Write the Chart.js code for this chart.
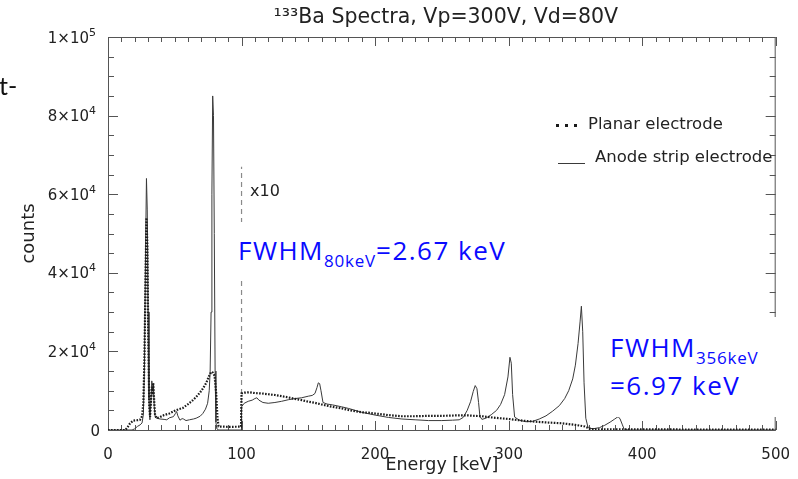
<!DOCTYPE html>
<html>
<head>
<meta charset="utf-8">
<script src="https://cdn.jsdelivr.net/npm/chart.js@4.4.1/dist/chart.umd.min.js"></script>
<style>
  html, body { margin: 0; padding: 0; background: #fff; }
  #wrap { position: relative; width: 798px; height: 479px; overflow: hidden; }
  .note { position: absolute; font: 26px 'Open Sans', Lato, sans-serif; letter-spacing: 1.5px; color: #0a0aff; background: #fff; white-space: nowrap; }
  .note sub { font-size: 17px; vertical-align: -7px; line-height: 0; letter-spacing: 0.8px; }
  #n80 { left: 236px; top: 222px; line-height: 35px; padding: 11px 4px 12px 2px; }
  #n356 { left: 606px; top: 317px; line-height: 38px; padding: 11px 40px 13px 4px; }
  #cut { position: absolute; left: -1px; top: 70px; font: 25px Lato, sans-serif; color: #111; }
</style>
</head>
<body>
<div id="wrap">
  <canvas id="spec" width="798" height="479"></canvas>
  <div class="note" id="n80">FWHM<sub>80keV</sub>=2.67 keV</div>
  <div class="note" id="n356">FWHM<sub>356keV</sub><br>=6.97 keV</div>
  <div id="cut">t-</div>
</div>
<script>
// 133Ba spectra; counts above 100 keV are shown multiplied by GAIN
const GAIN = 10;
const GAIN_FROM = 100;

const planarEnergy = [0, 13, 14.5, 16.5, 19, 22, 24, 25.5, 26.5, 27.3, 28.1, 28.8, 29.5, 30.2, 30.9, 31.5, 32.2, 32.8, 33.3, 33.9, 34.5, 35.2, 36.4, 39, 42, 46, 50, 53, 56, 60, 63.6, 66, 68.6, 71, 73.6, 75.5, 77.3, 78.5, 79.8, 81, 82, 82.8, 86, 90, 95, 99.6,
  100, 102, 106, 110, 115, 120, 125, 130, 135, 140, 145, 150, 155, 160, 165, 170, 175, 180, 185, 190, 195, 200, 210, 220, 230, 240, 250, 260, 270, 280, 290, 300, 310, 320, 330, 340, 350, 357, 361, 365, 380, 400, 450, 500];
const planarCounts = [0, 0, 600, 1700, 2400, 2500, 2600, 3500, 7000, 18000, 38000, 54000, 47000, 22000, 6000, 3300, 7500, 11000, 9000, 12000, 8000, 4000, 3000, 3300, 3800, 4200, 4900, 5300, 5600, 6600, 7600, 8400, 9400, 10500, 12000, 13600, 14800, 14600, 13800, 9500, 3000, 900, 850, 800, 820, 850,
  930, 950, 960, 940, 930, 910, 890, 860, 830, 790, 760, 720, 690, 650, 610, 580, 550, 510, 480, 450, 440, 420, 380, 350, 350, 360, 360, 370, 370, 350, 310, 280, 240, 210, 190, 170, 130, 90, 30, 15, 15, 15, 12, 12];

const anodeEnergy = [0, 18, 20, 22, 24, 25.5, 26.5, 27.3, 28.1, 28.8, 29.4, 30, 30.7, 31.4, 32.1, 32.8, 33.4, 34, 34.6, 35.4, 36.4, 39, 42, 44, 46, 49, 50.5, 51.4, 52.3, 53.9, 55.5, 56.5, 58.4, 61, 64, 66, 69, 71, 73, 74.6, 75.8, 76.5, 77.2, 77.8, 78.4, 79, 79.6, 80.2, 80.8, 81.5, 83, 99.6,
  100, 102, 105, 108, 110, 111.5, 113, 116, 120, 125, 130, 135, 140, 145, 150, 153, 155, 156.5, 157.5, 158.5, 159.5, 161, 164, 168, 175, 180, 190, 200, 210, 220, 230, 240, 250, 258, 263, 266, 269, 271.5, 273.5, 275, 276.3, 277.5, 278.5, 280, 283, 287, 291, 294, 297, 299.5, 301, 302, 303, 304.5, 308, 313, 318, 323, 328, 333, 338, 342, 345, 348, 350, 352, 353.5, 354.5, 355.5, 356.5, 357.8, 359.5, 363, 368, 372, 376, 379.5, 382, 383.5, 385, 386.5, 390, 500];
const anodeCounts = [0, 0, 300, 900, 1300, 1800, 4000, 16000, 45000, 64000, 56000, 30000, 8000, 2600, 7000, 12500, 10000, 11800, 6000, 3200, 3000, 2800, 2700, 2600, 3100, 3400, 4200, 4700, 3600, 2500, 2900, 2800, 2400, 2600, 2800, 3000, 3500, 4200, 5300, 6800, 10000, 15000, 30000, 60000, 85000, 80000, 50000, 15000, 2000, 300, 0, 0,
  590, 680, 730, 760, 800, 820, 760, 700, 680, 700, 730, 770, 800, 820, 860, 880, 930, 1080, 1200, 1180, 1000, 700, 660, 640, 590, 550, 450, 380, 320, 280, 260, 240, 240, 250, 260, 320, 500, 720, 980, 1130, 1050, 700, 350, 270, 300, 390, 500, 650, 900, 1350, 1850, 1700, 900, 330, 250, 210, 220, 280, 360, 480, 620, 800, 1000, 1300, 1650, 2200, 2750, 3150, 2500, 1200, 300, 60, 30, 60, 120, 200, 280, 340, 280, 150, 20, 0, 0];

const xTicks = [0, 100, 200, 300, 400, 500];
const yTicks = [0, 20000, 40000, 60000, 80000, 100000];

const toPoints = (es, cs) => es.map((e, i) => ({ x: e, y: e >= GAIN_FROM ? cs[i] * GAIN : cs[i] }));

const AXIS = '#555';
const INK = '#222';
const FONT = 'DejaVu Sans';

// frame with inward ticks on all four sides, plus the text the library can't lay out
const frame = {
  id: 'frame',
  beforeDatasetsDraw(chart) {
    const { ctx, chartArea: a, scales: { x, y } } = chart;
    ctx.save();
    ctx.strokeStyle = AXIS;
    ctx.lineWidth = 1;
    ctx.strokeRect(a.left + 0.5, a.top + 0.5, a.right - a.left - 1, a.bottom - a.top);
    ctx.beginPath();
    for (let v = 0; v <= 500; v += 10) {
      const px = Math.round(x.getPixelForValue(v)) + 0.5;
      const len = v % 100 === 0 ? 9 : 5;
      ctx.moveTo(px, a.bottom); ctx.lineTo(px, a.bottom - len);
      ctx.moveTo(px, a.top); ctx.lineTo(px, a.top + len);
    }
    for (let v = 0; v <= 100000; v += 5000) {
      const py = Math.round(y.getPixelForValue(v)) + 0.5;
      const len = v % 20000 === 0 ? 10 : 6;
      ctx.moveTo(a.left, py); ctx.lineTo(a.left + len, py);
      ctx.moveTo(a.right, py); ctx.lineTo(a.right - len, py);
    }
    ctx.stroke();
    ctx.restore();
  },
  afterDraw(chart) {
    const { ctx, chartArea: a, data, scales: { y } } = chart;
    ctx.save();
    ctx.fillStyle = INK;
    ctx.textBaseline = 'alphabetic';

    // y tick labels as mantissa x 10 with a raised exponent
    ctx.textAlign = 'right';
    const right = a.left - 12;
    yTicks.forEach(v => {
      const py = y.getPixelForValue(v) + 5.5;
      if (v === 0) {
        ctx.font = '15px ' + FONT;
        ctx.fillText('0', right + 4, py);
        return;
      }
      const p = Math.floor(Math.log10(v));
      const exp = String(p);
      ctx.font = '11px ' + FONT;
      const ew = ctx.measureText(exp).width;
      ctx.fillText(exp, right, py - 7);
      ctx.font = '15px ' + FONT;
      ctx.fillText((v / Math.pow(10, p)) + '\u00d710', right - ew, py);
    });

    ctx.textBaseline = 'middle';
    ctx.font = '20.5px ' + FONT;
    ctx.textAlign = 'center';
    ctx.fillText('\u00b9\u00b3\u00b3Ba Spectra, Vp=300V, Vd=80V', (a.left + a.right) / 2 + 4, 18);

    // legend
    ctx.textAlign = 'left';
    ctx.font = '16.5px ' + FONT;
    const planar = data.datasets[0], anode = data.datasets[1];
    ctx.fillStyle = planar.borderColor;
    for (let i = 0; i < 3; i++) ctx.fillRect(556 + i * 9, 124, 3, 3);
    ctx.fillStyle = INK;
    ctx.fillText(planar.label, 588, 125);
    ctx.strokeStyle = anode.borderColor;
    ctx.lineWidth = 1;
    ctx.beginPath();
    ctx.moveTo(558, 163.5); ctx.lineTo(585, 163.5);
    ctx.stroke();
    ctx.fillText(anode.label, 595, 158);

    ctx.font = '16px ' + FONT;
    ctx.fillText('x10', 250, 192);
    ctx.restore();
  }
};

new Chart(document.getElementById('spec'), {
  type: 'line',
  data: {
    datasets: [
      {
        label: 'Planar electrode',
        data: toPoints(planarEnergy, planarCounts),
        borderColor: '#1a1a1a',
        borderWidth: 2.2,
        borderDash: [1.6, 1.4],
        pointRadius: 0,
        tension: 0
      },
      {
        label: 'Anode strip electrode',
        data: toPoints(anodeEnergy, anodeCounts),
        borderColor: '#3a3a3a',
        borderWidth: 1,
        pointRadius: 0,
        tension: 0
      },
      {
        label: 'gain mark',
        data: [{ x: GAIN_FROM, y: 0 }, { x: GAIN_FROM, y: 67000 }],
        borderColor: '#8a8a8a',
        borderWidth: 1.2,
        borderDash: [5, 4],
        pointRadius: 0
      }
    ]
  },
  options: {
    responsive: false,
    animation: false,
    layout: { padding: { top: 37, right: 22, left: 0, bottom: 0 } },
    plugins: { legend: { display: false }, tooltip: { enabled: false } },
    scales: {
      x: {
        type: 'linear',
        min: 0,
        max: 500,
        afterFit(s) { s.height = 49; },
        afterBuildTicks(s) { s.ticks = xTicks.map(v => ({ value: v })); },
        grid: { display: false },
        border: { display: false },
        ticks: { color: INK, padding: 8, maxRotation: 0, font: { family: FONT, size: 15 } },
        title: { display: true, text: 'Energy [keV]', color: INK, padding: { top: 0, bottom: 3 }, font: { family: FONT, size: 17.5 } }
      },
      y: {
        min: 0,
        max: 100000,
        afterFit(s) { s.width = 108; },
        afterBuildTicks(s) { s.ticks = yTicks.map(v => ({ value: v })); },
        grid: { display: false },
        border: { display: false },
        ticks: { display: false },
        title: { display: true, text: 'counts', color: INK, padding: { top: 19, bottom: 0 }, font: { family: FONT, size: 18 } }
      }
    }
  },
  plugins: [frame]
});
</script>
</body>
</html>
